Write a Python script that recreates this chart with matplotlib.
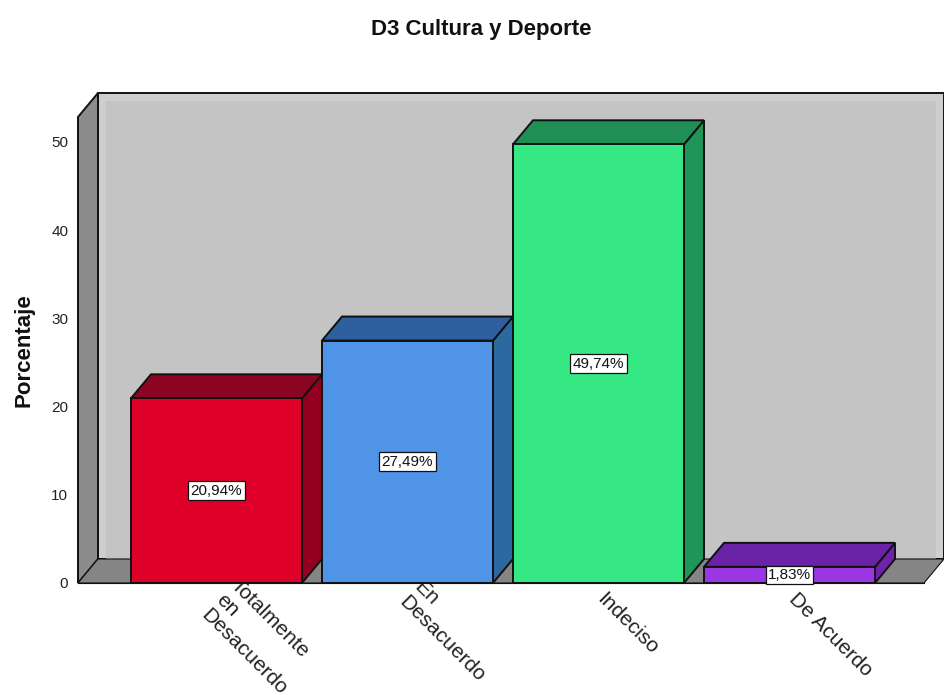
import matplotlib
matplotlib.use("Agg")
import matplotlib.pyplot as plt
from matplotlib.patches import Polygon

categories = ["Totalmente\nen\nDesacuerdo", "En\nDesacuerdo", "Indeciso", "De Acuerdo"]
values = [20.94, 27.49, 49.74, 1.83]
value_labels = ["20,94%", "27,49%", "49,74%", "1,83%"]
yticks = [0, 10, 20, 30, 40, 50]

front_colors = ["#de0029", "#4f94e6", "#36e884", "#9a36e2"]
top_colors = ["#8c0522", "#2f5f9f", "#1f8f55", "#6a22a6"]
side_colors = ["#93001f", "#2c69a0", "#1f9658", "#6f22ac"]

# label offsets from the bar centre on the axis, in pixels
label_offsets = [(24, 8), (16, 6), (8, -6), (9, -6)]

plt.rcParams["font.family"] = ["Liberation Sans", "DejaVu Sans"]

W, H = 944, 695
fig = plt.figure(figsize=(W / 100, H / 100), dpi=100)

# front plane of the box in pixels
left, right, bottom, top = 78, 924, 583, 117
ax = fig.add_axes([left / W, 1 - bottom / H, (right - left) / W, (bottom - top) / H])

pitch = 191.0
xmin = -(216.5 - left) / pitch
xmax = (right - 216.5) / pitch
ymax = (bottom - top) / 8.82
ax.set_xlim(xmin, xmax)
ax.set_ylim(0, ymax)

# 3d depth, in data units
dx = 20 / pitch
dy = 24 / 8.82
bar_w = 171 / pitch
# lighter rim of the back wall
rx = 8 / pitch
ry = 8 / 8.82


def poly(pts, fc, z, ec="#111111", lw=1.4):
    ax.add_patch(Polygon(pts, closed=True, fc=fc, ec=ec, lw=lw, zorder=z, clip_on=False))


# walls
poly([(xmin + dx, dy), (xmax + dx, dy), (xmax + dx, ymax + dy), (xmin + dx, ymax + dy)], "#cecece", 1)
poly([(xmin + dx + rx, dy), (xmax + dx - rx, dy), (xmax + dx - rx, ymax + dy - ry), (xmin + dx + rx, ymax + dy - ry)],
     "#c4c4c4", 1, ec="none", lw=0)
poly([(xmin, 0), (xmin + dx, dy), (xmin + dx, ymax + dy), (xmin, ymax)], "#8c8c8c", 2)
poly([(xmin, 0), (xmax, 0), (xmax + dx, dy), (xmin + dx, dy)], "#858585", 2, lw=0.8)

# category labels sit under the bars, so the T gets covered
for i, name in enumerate(categories):
    ax.annotate(name, xy=(i, 0), xytext=label_offsets[i], textcoords="offset pixels",
                rotation=-45, rotation_mode="anchor", ha="left", va="top", ma="left",
                fontsize=15, color="#222222", linespacing=1.15, zorder=3,
                annotation_clip=False)

for i, v in enumerate(values):
    x0, x1 = i - bar_w / 2, i + bar_w / 2
    z = 4 + i
    poly([(x1, 0), (x1 + dx, dy), (x1 + dx, v + dy), (x1, v)], side_colors[i], z)
    poly([(x0, v), (x1, v), (x1 + dx, v + dy), (x0 + dx, v + dy)], top_colors[i], z)
    ax.bar(i, v, width=bar_w, color=front_colors[i], edgecolor="#111111", linewidth=1.4, zorder=z)

for i, v in enumerate(values):
    ax.text(i, v / 2, value_labels[i], ha="center", va="center", fontsize=11, color="#111111", zorder=10,
            bbox=dict(boxstyle="square,pad=0.15", fc="white", ec="#111111", lw=0.9), clip_on=False)

for side in ["top", "right", "left"]:
    ax.spines[side].set_visible(False)
ax.spines["bottom"].set_zorder(9)
ax.spines["bottom"].set_color("#111111")
ax.patch.set_visible(False)

ax.set_xticks([])
ax.set_yticks(yticks)
ax.set_yticklabels([str(t) for t in yticks], fontsize=11, color="#222222")
ax.tick_params(axis="y", length=0, pad=7)

fig.text(481 / W, 1 - 29 / H, "D3 Cultura y Deporte", ha="center", va="center", fontsize=16, fontweight="bold", color="#111111")
fig.text(24 / W, 1 - 350 / H, "Porcentaje", ha="center", va="center", rotation=90, fontsize=16, fontweight="bold", color="#111111")

fig.savefig("out.png", dpi=100)
